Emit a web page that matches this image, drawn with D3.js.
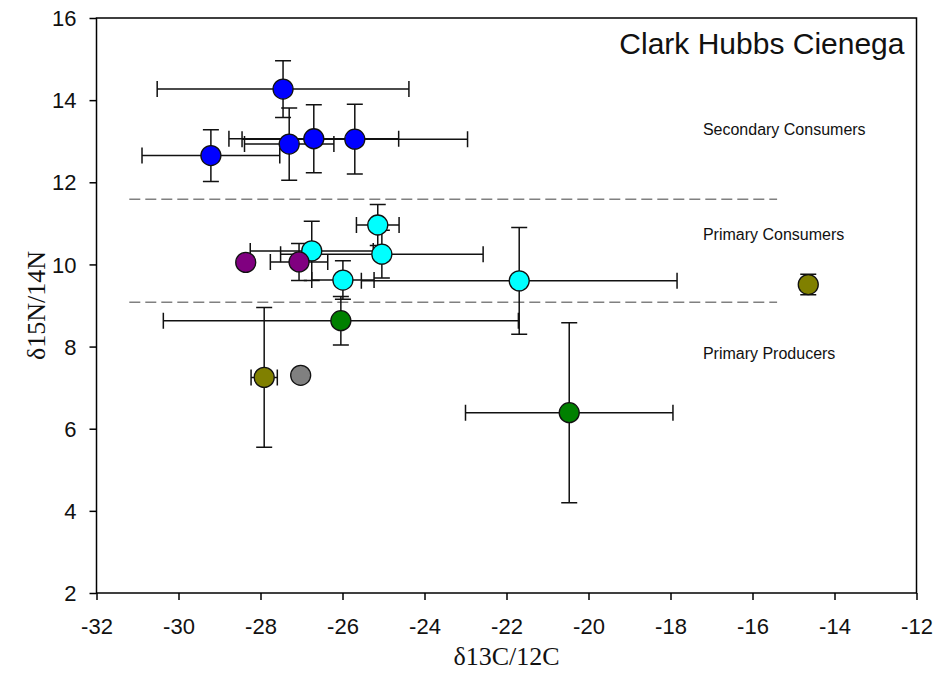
<!DOCTYPE html>
<html>
<head>
<meta charset="utf-8">
<script src="https://cdn.jsdelivr.net/npm/d3@7"></script>
<style>
  body { margin: 0; background: #fff; }
  text { font-family: Arial, "Liberation Sans", sans-serif; }
</style>
</head>
<body>
<div id="chart"></div>
<script>
// data (d13C, d15N, +/- errors)
var groups   = ['S1', 'S1', 'S1', 'S1', 'S1',
                'P1', 'P1', 'P1', 'P1', 'P1',
                'P2', 'P2',
                'G1', 'G1',
                'O1', 'O1',
                'N1']
var carbon   = [-27.45, -29.21, -27.30, -26.70, -25.70,
                -25.14, -25.04, -26.75, -25.99, -21.69,
                -28.36, -27.06,
                -26.04, -20.47,
                -27.91, -14.64,
                -27.02]
var nitrogen = [14.27, 12.65, 12.93, 13.06, 13.05,
                10.96, 10.25, 10.33, 9.62, 9.60,
                10.05, 10.06,
                8.63, 6.39,
                7.25, 9.51,
                7.30]
var carbonErr   = [3.07, 1.68, 1.09, 2.07, 2.75,
                   0.52, 2.47, 1.50, 0.76, 3.85,
                   0, 0.70,
                   4.33, 2.53,
                   0.32, 0,
                   0]
var nitrogenErr = [0.69, 0.63, 0.88, 0.83, 0.85,
                   0.50, 0.58, 0.72, 0.47, 1.30,
                   0, 0.45,
                   0.59, 2.19,
                   1.70, 0.25,
                   0]
var groupKeys   = ['S1', 'P1', 'P2', 'G1', 'O1', 'N1']
var groupColors = ['#0000ff', '#00ffff', '#800080', '#008000', '#808000', '#808080']

var xTicks = [-32, -30, -28, -26, -24, -22, -20, -18, -16, -14, -12]
var yTicks = [2, 4, 6, 8, 10, 12, 14, 16]

// trophic level boundaries and labels
var levelLines  = [11.59, 9.08]
var levelRange  = [-31.2, -15.4]
var levelNames  = ['Secondary Consumers', 'Primary Consumers', 'Primary Producers']
var levelLabelY = [13.15, 10.59, 7.70]
var levelLabelX = -17.21

var siteName = 'Clark Hubbs Cienega'

var W = 937, H = 681
var margin = {left: 96.5, top: 18, right: 20.5, bottom: 88}
var iw = W - margin.left - margin.right
var ih = H - margin.top - margin.bottom

var svg = d3.select('#chart').append('svg')
  .attr('width', W)
  .attr('height', H)

var g = svg.append('g')
  .attr('transform', 'translate(' + margin.left + ',' + margin.top + ')')

var x = d3.scaleLinear().domain([-32, -12]).range([0, iw])
var y = d3.scaleLinear().domain([2, 16]).range([ih, 0])
var color = d3.scaleOrdinal().domain(groupKeys).range(groupColors)

var points = carbon.map(function(c, i){
  return {g: groups[i], x: c, y: nitrogen[i], ex: carbonErr[i], ey: nitrogenErr[i]}
})

//虚线
g.selectAll('.level-line')
  .data(levelLines)
  .enter()
  .append('line')
  .attr('class', 'level-line')
  .attr('x1', x(levelRange[0]))
  .attr('x2', x(levelRange[1]))
  .attr('y1', function(d){ return y(d) })
  .attr('y2', function(d){ return y(d) })
  .attr('stroke', '#808080')
  .attr('stroke-width', 1.5)
  .attr('stroke-dasharray', '11,5')

g.selectAll('.level-name')
  .data(levelNames)
  .enter()
  .append('text')
  .attr('class', 'level-name')
  .attr('x', x(levelLabelX))
  .attr('y', function(d, i){ return y(levelLabelY[i]) })
  .attr('font-size', 16)
  .attr('fill', '#111')
  .text(function(d){ return d })

// error bars
var cap = 8
var bars = g.append('g').attr('class', 'err')
  .attr('stroke', '#111')
  .attr('stroke-width', 1.5)
  .attr('fill', 'none')

points.forEach(function(d){
  var cx = x(d.x), cy = y(d.y)
  if(d.ex > 0){
    var x0 = x(d.x - d.ex), x1 = x(d.x + d.ex)
    bars.append('path')
      .attr('d', 'M' + x0 + ',' + cy + 'H' + x1 +
                 'M' + x0 + ',' + (cy - cap) + 'V' + (cy + cap) +
                 'M' + x1 + ',' + (cy - cap) + 'V' + (cy + cap))
  }
  if(d.ey > 0){
    var y0 = y(d.y - d.ey), y1 = y(d.y + d.ey)
    bars.append('path')
      .attr('d', 'M' + cx + ',' + y0 + 'V' + y1 +
                 'M' + (cx - cap) + ',' + y0 + 'H' + (cx + cap) +
                 'M' + (cx - cap) + ',' + y1 + 'H' + (cx + cap))
  }
})

// symbols
g.selectAll('.pt')
  .data(points)
  .enter()
  .append('circle')
  .attr('class', 'pt')
  .attr('cx', function(d){ return x(d.x) })
  .attr('cy', function(d){ return y(d.y) })
  .attr('r', 10)
  .attr('fill', function(d){ return color(d.g) })
  .attr('stroke', '#111')
  .attr('stroke-width', 1.3)

// frame
g.append('rect')
  .attr('width', iw)
  .attr('height', ih)
  .attr('fill', 'none')
  .attr('stroke', '#000')
  .attr('stroke-width', 1.5)

// axes
var fmt = function(d){ return String(d) }
var xAxis = g.append('g')
  .attr('transform', 'translate(0,' + ih + ')')
  .call(d3.axisBottom(x).tickValues(xTicks).tickSize(7).tickPadding(18).tickFormat(fmt))
var yAxis = g.append('g')
  .call(d3.axisLeft(y).tickValues(yTicks).tickSize(7).tickPadding(13).tickFormat(fmt))

;[xAxis, yAxis].forEach(function(a){
  a.select('.domain').remove()
  a.selectAll('line').attr('stroke', '#000').attr('stroke-width', 1.5)
  a.selectAll('text')
    .attr('fill', '#111')
    .style('font-family', 'Arial, "Liberation Sans", sans-serif')
    .style('font-size', '22px')
})
xAxis.selectAll('text').attr('dy', '0.71em')
yAxis.selectAll('text').attr('dy', '0.35em')

// site name
g.append('text')
  .attr('x', iw - 12)
  .attr('y', 36)
  .attr('text-anchor', 'end')
  .attr('font-size', 30)
  .attr('fill', '#111')
  .text(siteName)

// axis titles
svg.append('text')
  .attr('x', margin.left + iw / 2)
  .attr('y', 665)
  .attr('text-anchor', 'middle')
  .style('font-family', '"Liberation Serif", "Times New Roman", serif')
  .attr('font-size', 26)
  .attr('fill', '#111')
  .text('δ13C/12C')

svg.append('text')
  .attr('transform', 'translate(45,' + (margin.top + ih / 2) + ') rotate(-90)')
  .attr('text-anchor', 'middle')
  .style('font-family', '"Liberation Serif", "Times New Roman", serif')
  .attr('font-size', 26)
  .attr('fill', '#111')
  .text('δ15N/14N')
</script>
</body>
</html>
